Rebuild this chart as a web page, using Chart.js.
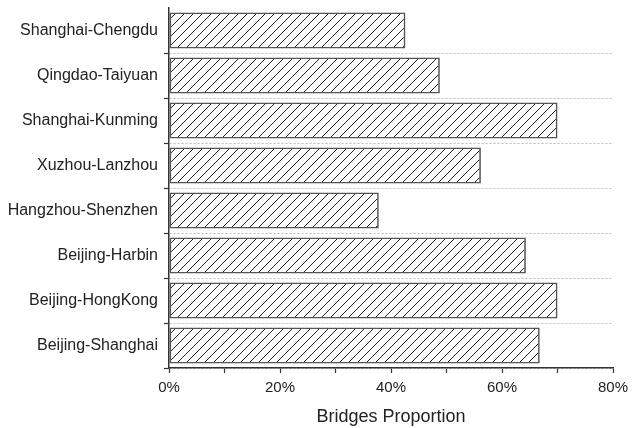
<!DOCTYPE html>
<html>
<head>
<meta charset="utf-8">
<script src="https://cdn.jsdelivr.net/npm/chart.js@4"></script>
<style>
  html, body { margin: 0; padding: 0; background: #fff; }
  #wrap { width: 641px; height: 428px; }
</style>
</head>
<body>
<div id="wrap"><canvas id="bridgeChart" width="641" height="428"></canvas></div>
<script>
// Routes (top to bottom) and share of bridges on each line, in percent
const routes = [
  'Shanghai-Chengdu',
  'Qingdao-Taiyuan',
  'Shanghai-Kunming',
  'Xuzhou-Lanzhou',
  'Hangzhou-Shenzhen',
  'Beijing-Harbin',
  'Beijing-HongKong',
  'Beijing-Shanghai'
];
const bridgeShare = [42.6, 48.8, 70.0, 56.2, 37.8, 64.3, 70.0, 66.8];
const xTicks = [0, 20, 40, 60, 80];

// Diagonal hatch fill
function hatch() {
  const c = document.createElement('canvas');
  c.width = 9; c.height = 9;
  const g = c.getContext('2d');
  g.strokeStyle = '#222';
  g.lineWidth = 1;
  g.beginPath();
  g.moveTo(-1, 10); g.lineTo(10, -1);
  g.moveTo(-2, 2); g.lineTo(2, -2);
  g.moveTo(7, 11); g.lineTo(11, 7);
  g.stroke();
  return g.createPattern(c, 'repeat');
}

Chart.defaults.font.family = '"Liberation Sans", Arial, sans-serif';
Chart.defaults.color = '#222';

new Chart(document.getElementById('bridgeChart'), {
  type: 'bar',
  data: {
    labels: routes,
    datasets: [{
      label: 'Bridges Proportion',
      data: bridgeShare,
      backgroundColor: hatch(),
      borderColor: '#555',
      borderWidth: 1.6,
      borderSkipped: false,
      barPercentage: 0.8,
      categoryPercentage: 1.0
    }]
  },
  options: {
    indexAxis: 'y',
    responsive: false,
    animation: false,
    layout: { padding: { top: 8, right: 28, left: 0, bottom: 0 } },
    plugins: {
      legend: { display: false },
      tooltip: { enabled: false }
    },
    scales: {
      x: {
        min: 0,
        max: 80,
        afterBuildTicks: s => { s.ticks = [0,10,20,30,40,50,60,70,80].map(v => ({ value: v })); },
        afterFit: s => { s.height = 60; },
        ticks: {
          autoSkip: false,
          maxRotation: 0,
          padding: 6,
          font: { size: 15 },
          callback: v => xTicks.includes(v) ? v + '%' : ''
        },
        grid: { drawOnChartArea: false, tickLength: 5, tickColor: '#333', tickWidth: 1.2 },
        border: { color: '#333', width: 1.5 },
        title: { display: true, text: 'Bridges Proportion', font: { size: 18 }, padding: { top: 6, bottom: 0 } }
      },
      y: {
        afterFit: s => { s.width = 169; s.paddingTop = 0; s.paddingBottom = 0; },
        ticks: { font: { size: 16 }, padding: 6 },
        grid: {
          offset: true,
          color: ctx => ctx.index === 0 ? 'rgba(0,0,0,0)' : '#bbb',
          lineWidth: 1,
          borderDash: [2, 2],
          tickBorderDash: [],
          tickColor: ctx => ctx.index === 0 ? 'rgba(0,0,0,0)' : '#333',
          tickLength: 5,
          tickWidth: 1.2
        },
        border: { color: '#333', width: 1.5, dash: [2, 2] }
      }
    }
  }
});
</script>
</body>
</html>
